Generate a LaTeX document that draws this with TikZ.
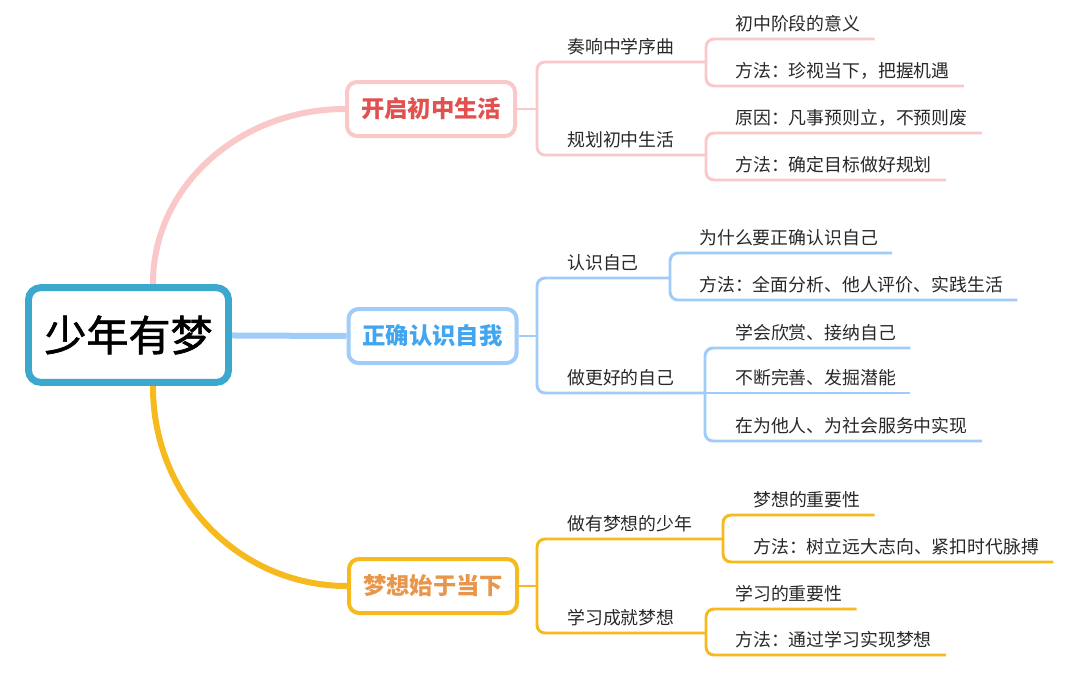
\documentclass[tikz,border=0pt]{standalone}
\usepackage{fontspec}
\newfontfamily\cjk{Noto Sans CJK SC}
\newfontfamily\cjkheavy{Noto Sans CJK SC}[FakeBold=1.6]
\usetikzlibrary{backgrounds}
\definecolor{rootC}{RGB}{60,168,205}
\definecolor{pinkL}{RGB}{250,200,200}
\definecolor{pinkT}{RGB}{226,80,80}
\definecolor{blueL}{RGB}{160,204,250}
\definecolor{blueT}{RGB}{66,165,240}
\definecolor{oraL}{RGB}{247,186,30}
\definecolor{oraT}{RGB}{232,150,75}
\definecolor{txtC}{RGB}{40,40,40}
\tikzset{
  mmroot/.style={draw=rootC, line width=5.2pt, rounded corners=9pt, fill=white,
    minimum width=150pt, minimum height=71pt, inner sep=0pt,
    font=\cjkheavy\fontsize{31.5}{32}\selectfont, text=black},
  mmbranch/.style={line width=3pt, rounded corners=7.5pt, fill=white,
    minimum width=126pt, minimum height=40.5pt, inner sep=0pt,
    font=\cjk\bfseries\fontsize{17.5}{18}\selectfont},
  mmlbl/.style={anchor=base west, inner sep=0pt,
    font=\cjk\fontsize{13.4}{14}\selectfont, text=txtC},
  mmline/.style={line width=2.2pt, rounded corners=6pt},
  mmmain/.style={line width=4.5pt},
}
% #1 name, #2 colour, #3 bracket x, #4 bracket y, #5 text x, #6 line y, #7 text
\newcommand{\mmleaf}[7]{%
  \node[mmlbl] (#1) at (#5,#6-9) {#7};
  \draw[mmline,#2] (#3,#4) |- ([xshift=10.5pt,yshift=-6.75pt]#1.base east);
}
\newcommand{\mmleafstraight}[7]{%
  \node[mmlbl] (#1) at (#5,#6-9) {#7};
  \draw[mmline,#2] (#3,#4) -- ([xshift=10.5pt,yshift=-6.75pt]#1.base east);
}
% #1 name, #2 colour, #3 bracket x, #4 bracket y, #5 text x, #6 line y, #7 end x, #8 text
\newcommand{\mmmid}[8]{%
  \node[mmlbl] (#1) at (#5,#6-9) {#8};
  \coordinate (#1-end) at (#7,#6);
  \draw[mmline,#2] (#3,#4) |- (#1-end);
}
\begin{document}
\begin{tikzpicture}[x=0.75pt,y=-0.75pt]
\useasboundingbox (0,0) rectangle (1080,676);

% root and main branches
\node[mmroot] (root) at (128.5,335) {少年有梦};
\node[mmbranch, draw=pinkL, text=pinkT] (b1) at (431,109) {开启初中生活};
\node[mmbranch, draw=blueL, text=blueT] (b2) at (432.5,336) {正确认识自我};
\node[mmbranch, draw=oraL, text=oraT] (b3) at (433,586) {梦想始于当下};

\begin{scope}[on background layer]
  \fill[white] (0,0) rectangle (1080,676);
  \coordinate (rtop) at (153,300);
  \coordinate (rbot) at (153,372);
  \draw[mmmain, pinkL] (rtop) -- (153,283) .. controls (153,187) and (239,109) .. (b1.west);
  \draw[mmmain, blueL] (root.center) -- (b2.west);
  \draw[mmmain, oraL] (rbot) -- (153,387) .. controls (153,497) and (239,586) .. (b3.west);
\end{scope}

% ---- branch 1 (pink)
\coordinate (j1) at (537,109);
\draw[mmline,pinkL] (b1.east) -- (j1);
\mmmid{m11}{pinkL}{537}{109}{567}{62}{706}{奏响中学序曲}
\mmmid{m12}{pinkL}{537}{109}{567}{155}{706}{规划初中生活}
\mmleaf{l111}{pinkL}{706}{62}{735}{39}{初中阶段的意义}
\mmleaf{l112}{pinkL}{706}{62}{735}{86}{方法：珍视当下，把握机遇}
\mmleaf{l121}{pinkL}{706}{155}{735}{133}{原因：凡事预则立，不预则废}
\mmleaf{l122}{pinkL}{706}{155}{735}{180}{方法：确定目标做好规划}

% ---- branch 2 (blue)
\coordinate (j2) at (537,336);
\draw[mmline,blueL] (b2.east) -- (j2);
\mmmid{m21}{blueL}{537}{336}{567}{278}{670}{认识自己}
\mmmid{m22}{blueL}{537}{336}{567}{393}{705}{做更好的自己}
\mmleaf{l211}{blueL}{670}{278}{699}{253}{为什么要正确认识自己}
\mmleaf{l212}{blueL}{670}{278}{699}{300}{方法：全面分析、他人评价、实践生活}
\mmleaf{l221}{blueL}{705}{393}{735}{348}{学会欣赏、接纳自己}
\mmleafstraight{l222}{blueL}{705}{393}{735}{393}{不断完善、发掘潜能}
\mmleaf{l223}{blueL}{705}{393}{735}{441}{在为他人、为社会服务中实现}

% ---- branch 3 (orange)
\coordinate (j3) at (537,586);
\draw[mmline,oraL] (b3.east) -- (j3);
\mmmid{m31}{oraL}{537}{586}{567}{539}{723}{做有梦想的少年}
\mmmid{m32}{oraL}{537}{586}{567}{633}{706}{学习成就梦想}
\mmleaf{l311}{oraL}{723}{539}{753}{515}{梦想的重要性}
\mmleaf{l312}{oraL}{723}{539}{753}{562}{方法：树立远大志向、紧扣时代脉搏}
\mmleaf{l321}{oraL}{706}{633}{735}{609}{学习的重要性}
\mmleaf{l322}{oraL}{706}{633}{735}{655}{方法：通过学习实现梦想}
\end{tikzpicture}
\end{document}
